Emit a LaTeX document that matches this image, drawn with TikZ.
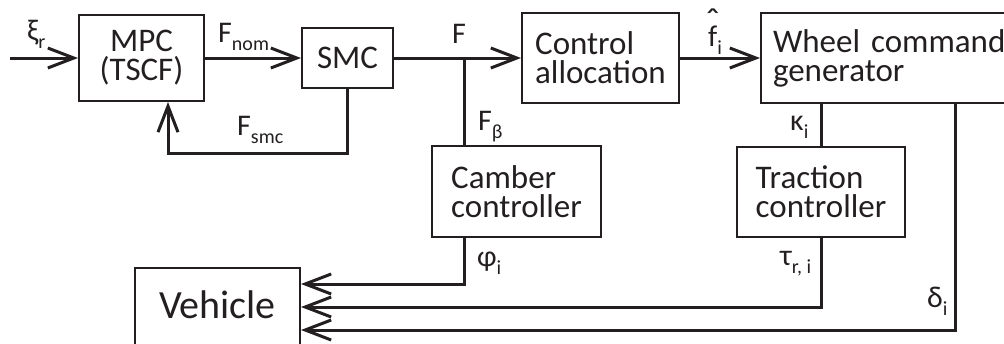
\documentclass[tikz,border=0pt]{standalone}
\usepackage{fontspec}
\setmainfont{Carlito}
\usetikzlibrary{arrows.meta}
\definecolor{ink}{HTML}{231F20}
\newcommand\sbs[1]{\raisebox{-8pt}{\fontsize{20}{20}\selectfont #1}}
\newcommand\hatf{\ooalign{f\cr\hidewidth\raisebox{12pt}{\fontsize{38}{38}\selectfont\char"02C6}\hidewidth\cr}}
\tikzset{
  blk/.style={draw=ink, line width=2pt, inner sep=0pt, font=\fontsize{33}{29}\selectfont, text=ink, align=left},
  conn/.style={draw=ink, line width=3pt},
  arr/.style={conn, -{Straight Barb[length=26pt,width=20pt]}},
  lbl/.style={font=\fontsize{30}{30}\selectfont, text=ink, inner sep=0pt, anchor=base west}
}
\begin{document}
\begin{tikzpicture}[x=1pt,y=-1pt]
\useasboundingbox (0,0) rectangle (1004,343);
% blocks
\node[blk, align=center, minimum width=125pt, minimum height=86pt] (mpc) at (141.5,58) {MPC\\(TSCF)};
\node[blk, minimum width=91pt, minimum height=60pt] (smc) at (347.5,58) {SMC};
\node[blk, minimum width=157pt, minimum height=90pt] (ca) at (600.5,58) {Control\\allocation};
\node[blk, anchor=west, text width=240pt, inner xsep=12pt, minimum height=90pt] (wcg) at (760,58) {\mbox{Wheel command}\\generator};
\node[blk, minimum width=169pt, minimum height=91pt] (cam) at (516.5,191.5) {Camber\\controller};
\node[blk, minimum width=168pt, minimum height=90pt] (tc) at (821,192) {Traction\\controller};
\node[blk, font=\fontsize{40}{40}\selectfont, text height=26pt, text depth=18pt, minimum width=165pt, minimum height=92pt] (veh) at (217.5,314) {Vehicle};
% connectors
\coordinate (in) at (10,58);
\draw[arr] (in) -- (mpc.west);
\draw[arr] (mpc.east) -- (smc.west);
\draw[arr] (smc.east) -- (ca.west);
\coordinate (jF) at (464,58);
\draw[conn] (jF) -- (jF |- cam.north);
\coordinate (fb) at (168,153);
\draw[arr] (smc.south) |- (fb) -- (fb |- mpc.south);
\draw[arr] (ca.east) -- (wcg.west);
\draw[conn] (wcg.south -| tc.north) -- (tc.north);
\coordinate (phi) at (464,284);
\draw[arr] (phi |- cam.south) -- (phi) -- (phi -| veh.east);
\coordinate (tau) at (821,307);
\draw[arr] (tc.south) |- (tau -| veh.east);
\coordinate (del) at (955,330);
\draw[arr] (del |- wcg.south) -- (del) -- (del -| veh.east);
% labels
\node[lbl] (lxi) at (27,40) {ξ\sbs{r}};
\node[lbl] (lfnom) at (218,42) {F\sbs{nom}};
\node[lbl] (lfsmc) at (237,135) {F\sbs{smc}};
\node[lbl] (lf) at (452,43) {F};
\node[lbl] (lfb) at (478,130) {F\sbs{β}};
\node[lbl] (lfi) at (708,46) {\hatf\sbs{i}};
\node[lbl] (lk) at (790,130) {κ\sbs{i}};
\node[lbl] (lphi) at (477,266) {φ\sbs{i}};
\node[lbl] (ltau) at (780,265) {τ\sbs{r, i}};
\node[lbl] (ldel) at (927,307) {δ\sbs{i}};
\end{tikzpicture}
\end{document}
